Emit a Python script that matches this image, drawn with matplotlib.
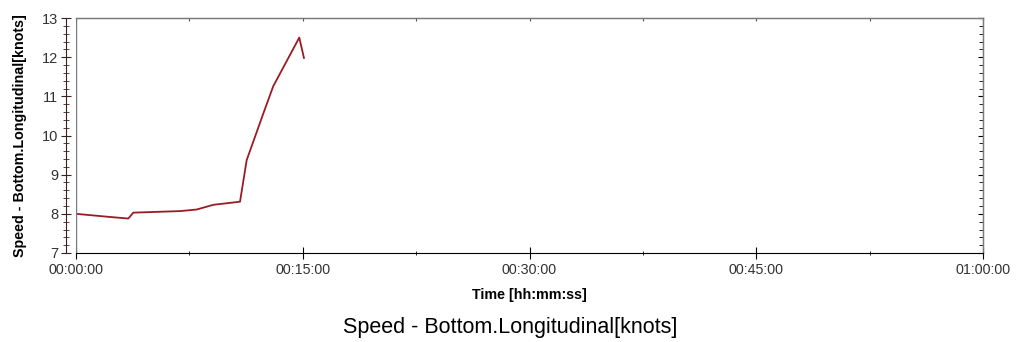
import matplotlib.pyplot as plt
from matplotlib.ticker import MultipleLocator, FuncFormatter

plt.rcParams['font.family'] = ['Liberation Sans', 'DejaVu Sans']

# time in minutes, speed in knots
time_min = [0.0, 2.25, 3.46, 3.79, 5.33, 6.9, 7.98, 9.08, 10.85,
            11.29, 12.39, 13.05, 14.77, 15.08]
speed_kn = [8.0, 7.92, 7.88, 8.03, 8.05, 8.07, 8.11, 8.23, 8.31,
            9.37, 10.56, 11.26, 12.5, 11.98]

x_ticks = [0, 15, 30, 45, 60]
y_range = (7, 13)

line_color = '#9b1b24'
frame_color = '#7a7a7a'
axis_color = '#3a2020'


def hhmmss(v, pos=None):
    total = int(round(v * 60))
    return f"{total // 3600:02d}:{(total % 3600) // 60:02d}:{total % 60:02d}"


W, H = 1021, 342
fig = plt.figure(figsize=(W / 100, H / 100), dpi=100)
ax = fig.add_axes([76 / W, 1 - 253 / H, (983 - 76) / W, (253 - 18) / H])

ax.plot(time_min, speed_kn, color=line_color, lw=1.3)

ax.set_xlim(0, 60)
ax.set_ylim(*y_range)
ax.set_xticks(x_ticks)
ax.xaxis.set_minor_locator(MultipleLocator(7.5))
ax.xaxis.set_major_formatter(FuncFormatter(hhmmss))
ax.yaxis.set_major_locator(MultipleLocator(1))
ax.yaxis.set_minor_locator(MultipleLocator(0.2))

# frame
for s in ['top', 'right']:
    ax.spines[s].set_color(frame_color)
    ax.spines[s].set_linewidth(1.0)
ax.spines['bottom'].set_color('black')
ax.spines['left'].set_position(('outward', 6.9))
ax.spines['left'].set_color(axis_color)
ax.axvline(0, color=frame_color, lw=1.0)

ax.tick_params(axis='y', which='major', direction='inout', length=7.5,
               color=axis_color, labelsize=10.5, labelcolor='#333333', pad=2)
ax.tick_params(axis='y', which='minor', direction='inout', length=4,
               color=axis_color)
ax.tick_params(axis='x', which='major', direction='inout', length=8.5,
               labelsize=10.3, labelcolor='#333333', pad=3)
ax.tick_params(axis='x', which='minor', direction='inout', length=2.5)

# right and top ticks pointing inward
sec_y = ax.secondary_yaxis('right')
sec_y.yaxis.set_major_locator(MultipleLocator(1))
sec_y.yaxis.set_minor_locator(MultipleLocator(0.2))
sec_y.tick_params(which='major', direction='in', length=3.5, labelright=False)
sec_y.tick_params(which='minor', direction='in', length=3)
sec_y.spines['right'].set_color(frame_color)

sec_x = ax.secondary_xaxis('top')
sec_x.xaxis.set_major_locator(MultipleLocator(7.5))
sec_x.tick_params(direction='in', length=2.5, labeltop=False, color='#555555')
sec_x.spines['top'].set_color(frame_color)

ax.set_xlabel('Time [hh:mm:ss]', fontsize=10.3, fontweight='bold', labelpad=8)
ax.set_ylabel('Speed - Bottom.Longitudinal[knots]', fontsize=10.3,
              fontweight='bold', labelpad=11)

fig.text(0.5, 1 - 327 / H, 'Speed - Bottom.Longitudinal[knots]',
         ha='center', va='center', fontsize=15.5)

fig.savefig('out.png', dpi=100, facecolor='white')
